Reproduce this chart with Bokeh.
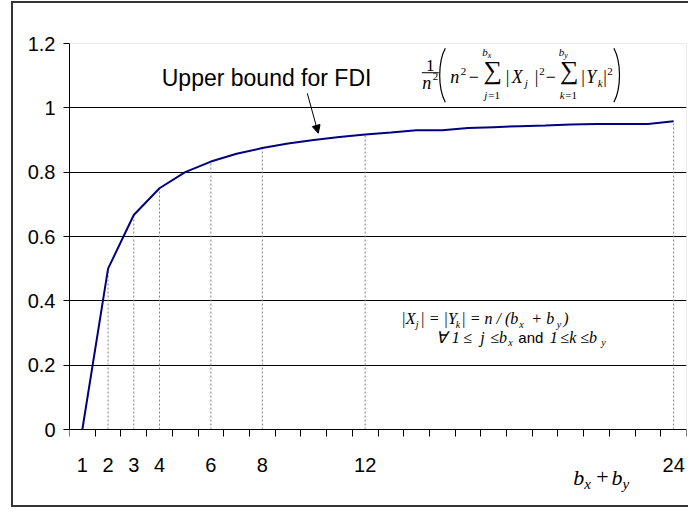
from bokeh.plotting import figure
from bokeh.models import (Range1d, FixedTicker, Label, Arrow, NormalHead, CustomJSTickFormatter,
                          BoxAnnotation)
from bokeh.embed import file_html
from bokeh.resources import INLINE

# ---- data ----
b_sum = list(range(1, 25))
bound = [0.0, 0.5, 0.667, 0.75, 0.8, 0.833, 0.857, 0.875, 0.889, 0.9, 0.909, 0.917,
         0.923, 0.93, 0.93, 0.937, 0.94, 0.943, 0.945, 0.948, 0.95, 0.95, 0.95, 0.958]
marked = [2, 3, 4, 6, 8, 12, 24]
x_tick_values = [1, 2, 3, 4, 6, 8, 12, 24]
y_tick_values = [0, 0.2, 0.4, 0.6, 0.8, 1.0, 1.2]
y_tick_labels = ["0", "0.2", "0.4", "0.6", "0.8", "1", "1.2"]
y_grid_values = [0.2, 0.4, 0.6, 0.8, 1.0]
Y_MAX = 1.2

SANS = "Liberation Sans"
SERIF = "Liberation Serif"

# layout: plot area spans px 43..429 vertically for 0..1.2; frame continues to the bottom edge
Y_LOW = -Y_MAX * (509 - 429) / (429 - 43)

p = figure(width=677, height=506, output_backend="svg", toolbar_location=None,
           x_range=Range1d(0.5, 24.5), y_range=Range1d(Y_LOW, Y_MAX),
           min_border_left=56, min_border_right=4, min_border_top=40, min_border_bottom=0)
p.styles = {"margin-left": "11px", "margin-top": "1px",
            "border-left": "2px solid #333333", "border-top": "2px solid #333333",
            "border-bottom": "2px solid #333333"}
p.background_fill_color = "white"
p.border_fill_color = "white"
p.outline_line_color = None

# plot-area box (gray)
p.add_layout(BoxAnnotation(left=0.5, right=24.5, bottom=0, top=Y_MAX, fill_color=None,
                           line_color="#808080", line_width=1, level="underlay"))

# x axis (drawn at y = 0)
xa = p.xaxis[0]
xa.fixed_location = 0
xa.ticker = FixedTicker(ticks=x_tick_values, minor_ticks=[k + 0.5 for k in range(0, 25)])
xa.major_tick_out = 0
xa.major_tick_in = 0
xa.minor_tick_out = 7
xa.minor_tick_in = 0
xa.minor_tick_line_color = "black"
xa.axis_line_color = "black"
xa.major_label_text_font = SANS
xa.major_label_text_font_size = "20px"
xa.major_label_text_color = "black"
xa.major_label_standoff = 21

# y axis
ya = p.yaxis[0]
ya.bounds = (0, Y_MAX)
ya.ticker = FixedTicker(ticks=y_tick_values)
ya.formatter = CustomJSTickFormatter(args=dict(vals=y_tick_values, labs=y_tick_labels),
    code="for (let i = 0; i < vals.length; i++) { if (Math.abs(vals[i] - tick) < 1e-9) return labs[i]; } return '';")
ya.major_tick_out = 6
ya.major_tick_in = 0
ya.minor_tick_out = 0
ya.minor_tick_in = 0
ya.major_tick_line_color = "black"
ya.axis_line_color = "black"
ya.major_label_text_font = SANS
ya.major_label_text_font_size = "20px"
ya.major_label_text_color = "black"
ya.major_label_standoff = 8

p.xgrid.visible = False
p.ygrid.ticker = FixedTicker(ticks=y_grid_values)
p.ygrid.grid_line_color = "black"
p.ygrid.grid_line_width = 1

# drop lines and curve
p.segment(x0=marked, y0=[0] * len(marked), x1=marked, y1=[bound[b - 1] for b in marked],
          line_color="#808080", line_dash="2 2", line_width=1)
p.line(b_sum, bound, line_color="#000080", line_width=2)


def ref(px, py):
    """Reference-image pixel position -> data position (annotation placement)."""
    return 0.5 + (px - 69.3) / 25.7, (429.0 - py) * Y_MAX / 385.7


def put(text, px, py, font=SERIF, size=18, style="normal", align="left"):
    x, y = ref(px, py - 0.3 * size)
    p.add_layout(Label(x=x, y=y, text=text, text_font=font, text_font_size=f"{size}px",
                       text_font_style=style, text_align=align, text_baseline="alphabetic",
                       text_color="black"))


# "Upper bound for FDI" + arrow
put("Upper bound for FDI", 161.5, 85, font=SANS, size=23)
xs, ys = ref(307, 93)
xe, ye = ref(318, 133)
p.add_layout(Arrow(x_start=xs, y_start=ys, x_end=xe, y_end=ye, line_color="black", line_width=1,
                   end=NormalHead(size=8, fill_color="black", line_color="black")))

# formula: 1/n^2 ( n^2 - sum |X_j|^2 - sum |Y_k|^2 )
put("1", 430, 70, size=17, align="center")
fx0, fy = ref(421.5, 72.5)
fx1, _ = ref(438.5, 72.5)
p.add_layout(Arrow(x_start=fx0, y_start=fy, x_end=fx1, y_end=fy, end=None, start=None,
                   line_color="black", line_width=1))
put("n", 422, 88, style="italic")
put("2", 432.5, 80, size=11)
put("n", 450, 82, style="italic")
put("2", 460.5, 75, size=11)
put("\u2212", 468.5, 82)
put("\u2211", 492.5, 78.5, size=26, align="center")
put("b", 482, 55.5, size=11, style="italic")
put("x", 487.5, 57.5, size=8, style="italic")
put("j", 484, 98, size=11, style="italic")
put("=1", 488, 98, size=11)
put("|", 505.5, 82)
put("X", 511.5, 82, style="italic")
put("j", 524.5, 86, size=11, style="italic")
put("|", 534.5, 82)
put("2", 539, 75, size=11)
put("\u2212", 545.5, 82)
put("\u2211", 569, 78.5, size=26, align="center")
put("b", 558.5, 55.5, size=11, style="italic")
put("y", 564, 57.5, size=8, style="italic")
put("k", 559.5, 98, size=11, style="italic")
put("=1", 565, 98, size=11)
put("|", 581, 82)
put("Y", 586, 82, style="italic")
put("k", 597.5, 86, size=11, style="italic")
put("|", 603, 82)
put("2", 607, 75, size=11)

bx0, by0 = ref(445, 48)
bx1, by1 = ref(445, 102)
cxa, cya = ref(437.5, 62)
cxb, cyb = ref(437.5, 88)
dx0, _ = ref(613.5, 48)
dxa, _ = ref(621, 62)
p.bezier(x0=[bx0, dx0], y0=[by0, by0], x1=[bx0, dx0], y1=[by1, by1],
         cx0=[cxa, dxa], cy0=[cya, cya], cx1=[cxa, dxa], cy1=[cyb, cyb],
         line_color="black", line_width=1.2)

# |X_j| = |Y_k| = n / (b_x + b_y)
put("|X", 401, 323, size=16, style="italic")
put("j", 415.5, 327, size=10, style="italic")
put("| = |Y", 420, 323, size=16, style="italic")
put("k", 455.5, 327, size=10, style="italic")
put("| = n / (b", 461, 323, size=16, style="italic")
put("x", 519, 327.5, size=10, style="italic")
put("+ b", 531, 323, size=16, style="italic")
put("y", 556.5, 327, size=10, style="italic")
put(")", 563, 323, size=16, style="italic")
# for all 1 <= j <= b_x and 1 <= k <= b_y
put("\u2200", 435.5, 341.5, size=16, style="italic")
put("1", 451.5, 341.5, size=16, style="italic")
put("\u2264", 463, 341.5, size=16, style="italic")
put("j", 480, 341.5, size=16, style="italic")
put("\u2264b", 490, 341.5, size=16, style="italic")
put("x", 508, 345, size=10, style="italic")
put("and", 518, 341.5, font=SANS, size=15)
put("1", 549.5, 341.5, size=16, style="italic")
put("\u2264k \u2264b", 560, 341.5, size=16, style="italic")
put("y", 601, 345, size=10, style="italic")

# axis title b_x + b_y
put("b", 573, 483.3, size=22, style="italic")
put("x", 584, 487.5, size=15, style="italic")
put("+", 596, 483.3, size=22)
put("b", 611, 483.3, size=22, style="italic")
put("y", 622, 487.5, size=15, style="italic")

open("out.html", "w").write(file_html(p, INLINE))
